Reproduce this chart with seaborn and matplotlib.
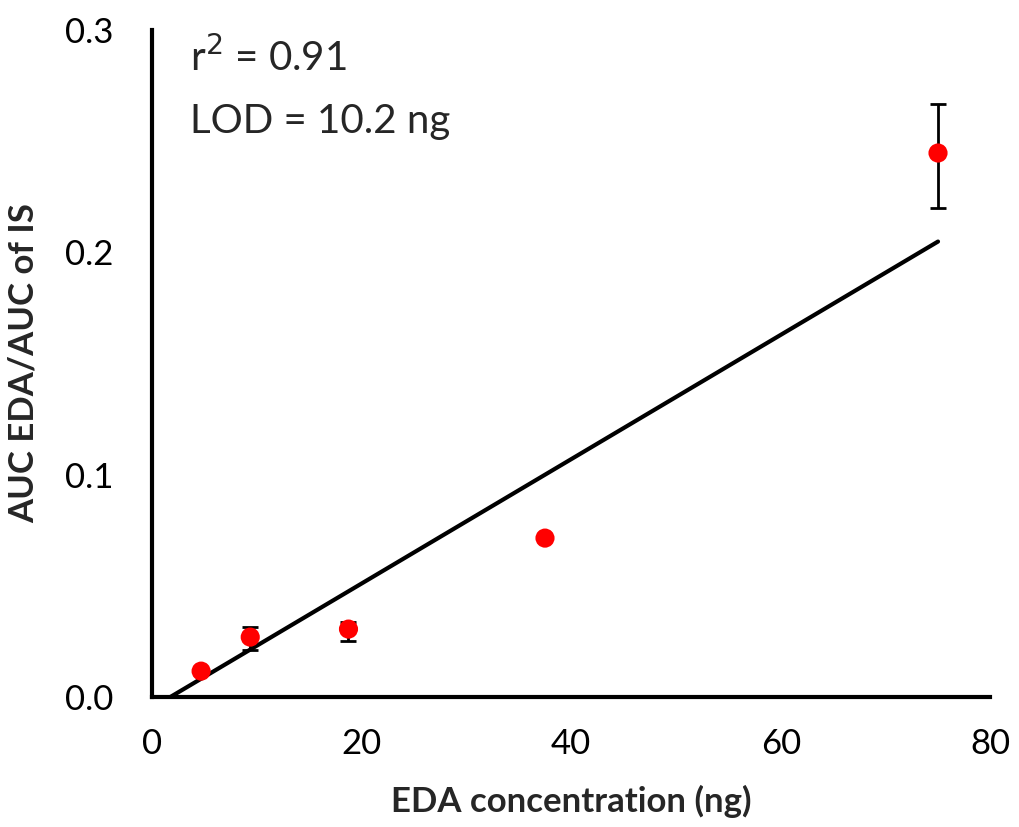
import numpy as np
import pandas as pd
import matplotlib
matplotlib.use("Agg")
import matplotlib.pyplot as plt
import seaborn as sns

# data
conc = [4.6875, 9.375, 18.75, 37.5, 75]
ratio = [0.0117, 0.0270, 0.0306, 0.0715, 0.2446]
err_low = [0.0, 0.0060, 0.0054, 0.0, 0.0248]
err_high = [0.0, 0.0045, 0.0030, 0.0, 0.0220]

# fitted line shown in the chart
fit_slope = 0.002795
fit_intercept = -0.00482
fit_end = 75

x_ticks = [0, 20, 40, 60, 80]
y_ticks = [0.0, 0.1, 0.2, 0.3]

df = pd.DataFrame({"conc": conc, "ratio": ratio})

sns.set_style("white")
plt.rcParams['font.family'] = ['Lato', 'DejaVu Sans']

fig = plt.figure(figsize=(10.2, 8.27), dpi=100)
ax = fig.add_axes([0.149, 0.157, 0.822, 0.807])

# trend line
x0 = -fit_intercept / fit_slope
line_x = np.array([x0, fit_end])
line_df = pd.DataFrame({"x": line_x, "y": fit_slope * line_x + fit_intercept})
sns.lineplot(data=line_df, x="x", y="y", color="black", linewidth=3, ax=ax)

# error bars
ax.errorbar(conc, ratio, yerr=[err_low, err_high], fmt="none",
            ecolor="black", elinewidth=2, capsize=6, capthick=2, zorder=3)

sns.scatterplot(data=df, x="conc", y="ratio", color="red", s=190,
                edgecolor="none", ax=ax, zorder=4)

ax.set_xlim(0, 80)
ax.set_ylim(0, 0.3)
ax.set_xticks(x_ticks)
ax.set_yticks(y_ticks)
ax.set_yticklabels([f"{v:.1f}" for v in y_ticks])
ax.tick_params(axis="both", labelsize=25, length=0, colors="black")
ax.tick_params(axis="x", pad=22)
ax.tick_params(axis="y", pad=28)

for s in ["top", "right"]:
    ax.spines[s].set_visible(False)
for s in ["left", "bottom"]:
    ax.spines[s].set_color("black")
    ax.spines[s].set_linewidth(3)

ax.set_xlabel("EDA concentration (ng)", fontsize=25, fontweight="bold", labelpad=18)
ax.set_ylabel("AUC EDA/AUC of IS", fontsize=25, fontweight="bold", labelpad=18)

ax.text(0.045, 0.99, r"r$^2$ = 0.91", transform=ax.transAxes, fontsize=29,
        va="top", ha="left")
ax.text(0.045, 0.89, "LOD = 10.2 ng", transform=ax.transAxes, fontsize=29,
        va="top", ha="left")

fig.savefig("out.png", dpi=100)
